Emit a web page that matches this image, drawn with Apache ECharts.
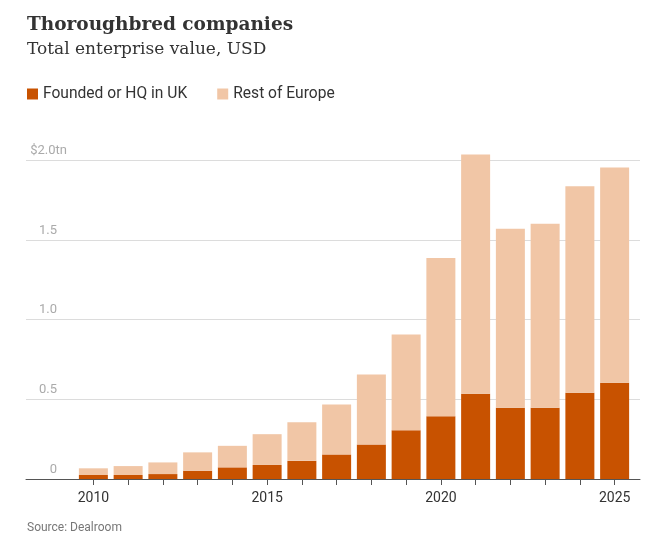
<!DOCTYPE html>
<html>
<head>
<meta charset="utf-8">
<style>
  html, body { margin: 0; padding: 0; background: #fff; }
  #chart { width: 655px; height: 545px; }
</style>
<script src="https://cdn.jsdelivr.net/npm/echarts@6/dist/echarts.min.js"></script>
</head>
<body>
<div id="chart"></div>
<script>
// values in USD trillions
const years = ['2010', '2011', '2012', '2013', '2014', '2015', '2016', '2017',
  '2018', '2019', '2020', '2021', '2022', '2023', '2024', '2025']
const ukValues = [0.025, 0.025, 0.031, 0.052, 0.073, 0.088, 0.114, 0.154,
  0.217, 0.305, 0.394, 0.534, 0.446, 0.446, 0.540, 0.603]
const restValues = [0.042, 0.056, 0.073, 0.115, 0.135, 0.193, 0.242, 0.313,
  0.438, 0.601, 0.991, 1.500, 1.123, 1.154, 1.296, 1.350]
const yTickLabels = ['0', '0.5', '1.0', '1.5', '$2.0tn']

const SANS = 'Roboto, "Liberation Sans", sans-serif'
const SERIF = '"DejaVu Serif", serif'

const chart = echarts.init(document.getElementById('chart'))

chart.setOption({
  animation: false,
  title: [
    {
      text: 'Thoroughbred companies',
      subtext: 'Total enterprise value, USD',
      left: 27,
      top: 16,
      padding: 0,
      itemGap: 6,
      textStyle: { fontFamily: SERIF, fontWeight: 'bold', fontSize: 18.5, color: '#333' },
      subtextStyle: { fontFamily: SERIF, fontSize: 17, color: '#333' }
    },
    {
      text: 'Source: Dealroom',
      left: 27,
      top: 522,
      padding: 0,
      textStyle: { fontFamily: SANS, fontWeight: 'normal', fontSize: 12, color: '#777' }
    }
  ],
  legend: {
    left: 27,
    top: 86,
    padding: 0,
    icon: 'rect',
    itemWidth: 11,
    itemHeight: 11,
    itemGap: 30,
    textStyle: { fontFamily: SANS, fontSize: 15.6, color: '#333' },
    data: ['Founded or HQ in UK', 'Rest of Europe']
  },
  grid: [
    // frame grid: gridlines and baseline span the full width
    { left: 26, right: 15, top: 160, bottom: 66 },
    // bar grid: categories sit inside a narrower band
    { left: 76, right: 23, top: 160, bottom: 66 }
  ],
  xAxis: [
    {
      gridIndex: 0,
      type: 'value',
      min: 0,
      max: 1,
      axisLine: { show: true, lineStyle: { color: '#555', width: 1 } },
      axisTick: { show: false },
      axisLabel: { show: false },
      splitLine: { show: false }
    },
    {
      gridIndex: 1,
      type: 'category',
      data: years,
      axisLine: { show: false },
      axisTick: { show: true, alignWithLabel: true, interval: 0, length: 6, lineStyle: { color: '#555' } },
      axisLabel: { interval: 4, margin: 12, fontFamily: SANS, fontSize: 14, color: '#333' }
    }
  ],
  yAxis: [
    {
      gridIndex: 0,
      type: 'value',
      min: 0,
      max: 2,
      interval: 0.5,
      axisLine: { show: false },
      axisTick: { show: false },
      splitLine: { lineStyle: { color: '#dcdcdc', width: 1 } },
      axisLabel: {
        margin: -41,
        align: 'right',
        verticalAlign: 'bottom',
        padding: [0, 0, 3, 0],
        fontFamily: SANS,
        fontSize: 13,
        color: '#aaa',
        formatter: (v) => {
          const txt = yTickLabels[Math.round(v / 0.5)]
          return v === 2 ? txt : '{n|' + txt + '}'
        },
        rich: {
          n: { fontFamily: SANS, fontSize: 13, color: '#aaa', padding: [0, 10, 0, 0] }
        }
      }
    },
    {
      gridIndex: 1,
      type: 'value',
      min: 0,
      max: 2,
      show: false,
      splitLine: { show: false }
    }
  ],
  series: [
    {
      name: 'Founded or HQ in UK',
      type: 'bar',
      stack: 'total',
      xAxisIndex: 1,
      yAxisIndex: 1,
      barWidth: 29,
      clip: false,
      itemStyle: { color: '#c85200' },
      data: ukValues
    },
    {
      name: 'Rest of Europe',
      type: 'bar',
      stack: 'total',
      xAxisIndex: 1,
      yAxisIndex: 1,
      barWidth: 29,
      clip: false,
      itemStyle: { color: '#f1c6a6' },
      data: restValues
    }
  ]
})
</script>
</body>
</html>
